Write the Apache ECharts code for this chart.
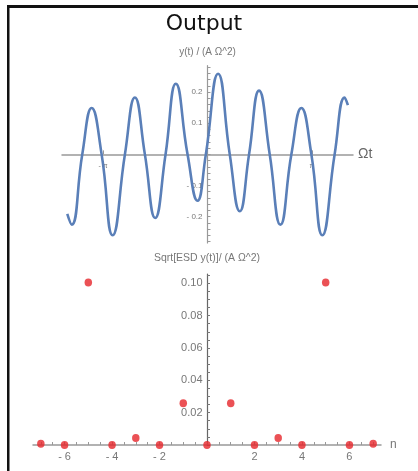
<!DOCTYPE html>
<html>
<head>
<meta charset="utf-8">
<script src="https://cdn.jsdelivr.net/npm/echarts@6/dist/echarts.min.js"></script>
<style>
html,body{margin:0;padding:0;background:#fff;}
#c{width:418px;height:471px;}
</style>
</head>
<body>
<div id="c"></div>
<script>
// ---- data ----
// top plot: y(t) sampled at extrema / zero crossings (t in radians)
var waveT = [-4.221, -4.088, -3.770, -3.487, -3.187, -2.856, -2.486, -2.186, -1.885, -1.575, -1.263, -0.953, -0.601, -0.301, -0.050, 0.319, 0.670, 0.971, 1.251, 1.551, 1.873, 2.195, 2.525, 2.826, 3.127, 3.457, 3.827, 4.128, 4.227];
var waveY = [-0.191, -0.226, 0, 0.149, 0, -0.260, 0, 0.183, 0, -0.2045, 0, 0.227, 0, -0.149, 0, 0.259, 0, -0.183, 0, 0.205, 0, -0.226, 0, 0.149, 0, -0.260, 0, 0.183, 0.158];
// bottom plot: spectrum
var harmonics = [-7, -6, -5, -4, -3, -2, -1, 0, 1, 2, 3, 4, 5, 6, 7];
var esdValues = [0.0007, 0, 0.1004, 0, 0.0043, 0, 0.0258, 0, 0.0258, 0, 0.0043, 0, 0.1004, 0, 0.0007];
// tick labels
var topXLabelValues = [-Math.PI, Math.PI];
var topXLabelTexts = ['- π', 'π'];
var topYLabelValues = [-0.2, -0.1, 0.1, 0.2];
var botXLabelValues = [-6, -4, -2, 2, 4, 6];
var botYLabelValues = [0.02, 0.04, 0.06, 0.08, 0.10];

function steps(a, b, s) { var r = []; var n = Math.round((b - a) / s); for (var i = 0; i <= n; i++) r.push(+(a + i * s).toFixed(6)); return r; }
function mathNum(v, d) { var s = Math.abs(v).toFixed(d); return v < 0 ? '- ' + s : s; }

var labelFont = 'Liberation Sans, Arial, sans-serif';
var waveData = waveT.map(function (t, i) { return [t, waveY[i]]; });
var esdData = harmonics.map(function (n, i) { return [n, esdValues[i]]; });

var chart = echarts.init(document.getElementById('c'), null, {renderer: 'canvas'});
chart.setOption({
  animation: false,
  backgroundColor: '#fff',
  graphic: [
    {type: 'rect', shape: {x: 7, y: 5, width: 411, height: 3}, style: {fill: '#111'}},
    {type: 'rect', shape: {x: 7, y: 5, width: 2.5, height: 466}, style: {fill: '#111'}},
    {type: 'text', x: 204, y: 24, style: {text: 'Output', fontSize: 22, fontFamily: 'DejaVu Sans', fill: '#111', align: 'center', verticalAlign: 'middle'}}
  ],
  grid: [
    {left: 62, right: 65, top: 65.7, bottom: 228},
    {left: 33, right: 37, top: 274, bottom: 26}
  ],
  xAxis: [
    {
      gridIndex: 0, type: 'value', min: -4.38, max: 4.38, position: 'bottom', offset: -88.65,
      name: 'Ωt', nameLocation: 'end', nameGap: 5,
      nameTextStyle: {fontSize: 14, color: '#666', fontFamily: labelFont, align: 'left', verticalAlign: 'middle', padding: [0, 0, 6, 0]},
      axisLine: {onZero: false, lineStyle: {color: '#999', width: 1.5}},
      axisTick: {show: true, inside: true, length: 4, customValues: topXLabelValues, lineStyle: {color: '#999'}},
      axisLabel: {customValues: topXLabelValues, margin: 8, fontSize: 7, color: '#777', fontFamily: labelFont,
        formatter: function (v) { return v < 0 ? topXLabelTexts[0] : topXLabelTexts[1]; }},
      splitLine: {show: false}
    },
    {
      gridIndex: 1, type: 'value', min: -7.33, max: 7.33, position: 'bottom',
      name: 'n', nameLocation: 'end', nameGap: 9,
      nameTextStyle: {fontSize: 12, color: '#777', fontFamily: labelFont, align: 'left', verticalAlign: 'middle'},
      axisLine: {onZero: false, lineStyle: {color: '#999', width: 1.5}},
      axisTick: {show: true, inside: true, length: 3, customValues: steps(-7, 7, 0.5), lineStyle: {color: '#999'}},
      axisLabel: {customValues: botXLabelValues, margin: 6.5, fontSize: 11, color: '#777', fontFamily: labelFont,
        formatter: function (v) { return mathNum(v, 0); }},
      splitLine: {show: false}
    }
  ],
  yAxis: [
    {
      gridIndex: 0, type: 'value', min: -0.285, max: 0.285, position: 'left', offset: -145.5,
      name: 'y(t) / (A Ω^2)', nameLocation: 'end', nameGap: 13,
      nameTextStyle: {fontSize: 10, color: '#777', fontFamily: labelFont, align: 'center', verticalAlign: 'middle'},
      axisLine: {onZero: false, lineStyle: {color: '#999', width: 1.2}},
      axisTick: {show: true, inside: true, length: 3, customValues: steps(-0.28, 0.28, 0.02), lineStyle: {color: '#999'}},
      axisLabel: {customValues: topYLabelValues, margin: 5, fontSize: 8, color: '#777', fontFamily: labelFont,
        formatter: function (v) { return mathNum(v, 1); }},
      splitLine: {show: false}
    },
    {
      gridIndex: 1, type: 'value', min: 0, max: 0.1057, position: 'left', offset: -174,
      name: 'Sqrt[ESD y(t)]/ (A Ω^2)', nameLocation: 'end', nameGap: 15.7,
      nameTextStyle: {fontSize: 10.5, color: '#777', fontFamily: labelFont, align: 'center', verticalAlign: 'middle'},
      axisLine: {onZero: false, lineStyle: {color: '#666', width: 1.2}},
      axisTick: {show: true, inside: true, length: 3, customValues: steps(0, 0.105, 0.005), lineStyle: {color: '#777'}},
      axisLabel: {customValues: botYLabelValues, margin: 4.5, fontSize: 11, color: '#777', fontFamily: labelFont,
        formatter: function (v) { return mathNum(v, 2); }},
      splitLine: {show: false}
    }
  ],
  series: [
    {
      type: 'line', xAxisIndex: 0, yAxisIndex: 0, data: waveData, smooth: 0.5,
      showSymbol: false, symbol: 'none',
      lineStyle: {color: '#5a7fb8', width: 2.6}
    },
    {
      type: 'scatter', xAxisIndex: 1, yAxisIndex: 1, data: esdData, clip: false,
      symbol: 'circle', symbolSize: [7.5, 8],
      itemStyle: {color: '#e6262b'}
    }
  ]
});
</script>
</body>
</html>
